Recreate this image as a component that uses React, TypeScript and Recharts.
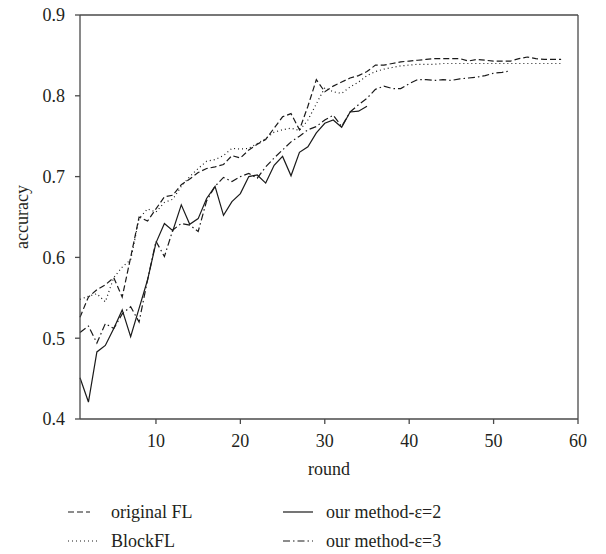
import { LineChart, Line, XAxis, YAxis, ReferenceLine } from "recharts";

const FONT = "'Liberation Serif', 'DejaVu Serif', serif";
const TEXT = "#231f20";
const AXIS = "#4a4a4a";

const originalFL = [
  0.526, 0.551, 0.56, 0.566, 0.575, 0.551, 0.6, 0.65, 0.645, 0.66,
  0.675, 0.677, 0.69, 0.697, 0.705, 0.71, 0.712, 0.715, 0.726, 0.723,
  0.733, 0.74, 0.746, 0.76, 0.774, 0.778, 0.758, 0.787, 0.82, 0.805,
  0.812, 0.817, 0.822, 0.825, 0.83, 0.838, 0.838, 0.84, 0.842, 0.843,
  0.844, 0.845, 0.846, 0.846, 0.846, 0.846, 0.843, 0.845, 0.844, 0.843,
  0.843, 0.843, 0.846, 0.848, 0.846, 0.845, 0.845, 0.845,
];

const blockFL = [
  0.548, 0.552, 0.555, 0.545, 0.575, 0.588, 0.597, 0.648, 0.66, 0.656,
  0.668, 0.672, 0.688, 0.7, 0.71, 0.719, 0.721, 0.726, 0.735, 0.734,
  0.735, 0.741, 0.747, 0.755, 0.758, 0.76, 0.757, 0.77, 0.79, 0.81,
  0.805, 0.803, 0.811, 0.817, 0.825, 0.83, 0.833, 0.835, 0.837, 0.838,
  0.839, 0.839, 0.839, 0.84, 0.84, 0.84, 0.84, 0.84, 0.84, 0.84,
  0.84, 0.84, 0.84, 0.84, 0.84, 0.84, 0.84, 0.84,
];

const eps2 = [
  0.451, 0.421, 0.483, 0.491, 0.512, 0.535, 0.502, 0.537, 0.572, 0.618,
  0.642, 0.633, 0.665, 0.641, 0.648, 0.673, 0.688, 0.652, 0.669, 0.679,
  0.7, 0.702, 0.692, 0.714, 0.725, 0.701, 0.73, 0.737, 0.754, 0.766,
  0.77, 0.761, 0.78, 0.781, 0.787,
];

const eps3 = [
  0.507, 0.515, 0.494, 0.518, 0.512, 0.53, 0.539, 0.52, 0.572, 0.62,
  0.601, 0.634, 0.642, 0.64, 0.632, 0.67, 0.688, 0.699, 0.694, 0.7,
  0.704, 0.698, 0.712, 0.723, 0.733, 0.743, 0.75, 0.758, 0.762, 0.77,
  0.776, 0.762, 0.78, 0.789, 0.797, 0.808, 0.812, 0.809, 0.809, 0.815,
  0.82, 0.82, 0.819, 0.82, 0.819, 0.821, 0.822, 0.823, 0.825, 0.828,
  0.829, 0.831,
];

const xTicks = [10, 20, 30, 40, 50, 60];
const yTicks = [0.4, 0.5, 0.6, 0.7, 0.8, 0.9];

const data = originalFL.map((v, i) => ({
  round: i + 1,
  original: v,
  block: blockFL[i] ?? null,
  e2: eps2[i] ?? null,
  e3: eps3[i] ?? null,
}));

const DASH = "6 3";
const DOT = "1 3";
const DASHDOT = "7 3 1.5 3";

const legendItems = [
  { label: "original FL", dash: DASH, x: 68, y: 512, len: 22 },
  { label: "our method-\u03b5=2", dash: undefined, x: 283, y: 512, len: 30 },
  { label: "BlockFL", dash: DOT, x: 68, y: 541, len: 30 },
  { label: "our method-\u03b5=3", dash: DASHDOT, x: 283, y: 541, len: 30 },
];

export default function App() {
  const tick = { fill: TEXT, fontSize: 18, fontFamily: FONT };
  return (
    <div style={{ position: "absolute", left: 0, top: 0, width: 606, height: 554, background: "#fff" }}>
      <LineChart width={606} height={554} data={data} margin={{ top: 15, right: 28, left: 0, bottom: 79 }}>
        <XAxis
          dataKey="round"
          type="number"
          domain={[1, 60]}
          ticks={xTicks}
          tickSize={5}
          tickMargin={10}
          stroke={AXIS}
          strokeWidth={1.3}
          tick={tick}
          height={56}
          label={{ value: "round", position: "insideBottom", offset: 0, fill: TEXT, fontSize: 18, fontFamily: FONT }}
        />
        <YAxis
          type="number"
          domain={[0.4, 0.9]}
          ticks={yTicks}
          tickFormatter={(v: number) => v.toFixed(1)}
          tickSize={5}
          tickMargin={10}
          stroke={AXIS}
          strokeWidth={1.3}
          tick={tick}
          width={80}
          label={{
            value: "accuracy",
            angle: -90,
            position: "insideLeft",
            dx: 17,
            fill: TEXT,
            fontSize: 18,
            fontFamily: FONT,
            style: { textAnchor: "middle" },
          }}
        />
        <ReferenceLine y={0.9} stroke={AXIS} strokeWidth={1.3} />
        <ReferenceLine x={60} stroke={AXIS} strokeWidth={1.3} />
        <Line dataKey="original" stroke="#1a1a1a" strokeWidth={1.2} strokeDasharray={DASH} dot={false} isAnimationActive={false} />
        <Line dataKey="block" stroke="#1a1a1a" strokeWidth={1.2} strokeDasharray={DOT} dot={false} isAnimationActive={false} />
        <Line dataKey="e2" stroke="#1a1a1a" strokeWidth={1.2} dot={false} isAnimationActive={false} />
        <Line dataKey="e3" stroke="#1a1a1a" strokeWidth={1.2} strokeDasharray={DASHDOT} dot={false} isAnimationActive={false} />
      </LineChart>
      <svg width={606} height={554} style={{ position: "absolute", left: 0, top: 0, pointerEvents: "none" }}>
        {legendItems.map((it) => (
          <g key={it.label}>
            <line x1={it.x} x2={it.x + it.len} y1={it.y} y2={it.y} stroke="#1a1a1a" strokeWidth={1.2} strokeDasharray={it.dash} />
            <text x={it.x + 43} y={it.y} dominantBaseline="central" fill={TEXT} fontSize={18} fontFamily={FONT}>
              {it.label}
            </text>
          </g>
        ))}
      </svg>
    </div>
  );
}
